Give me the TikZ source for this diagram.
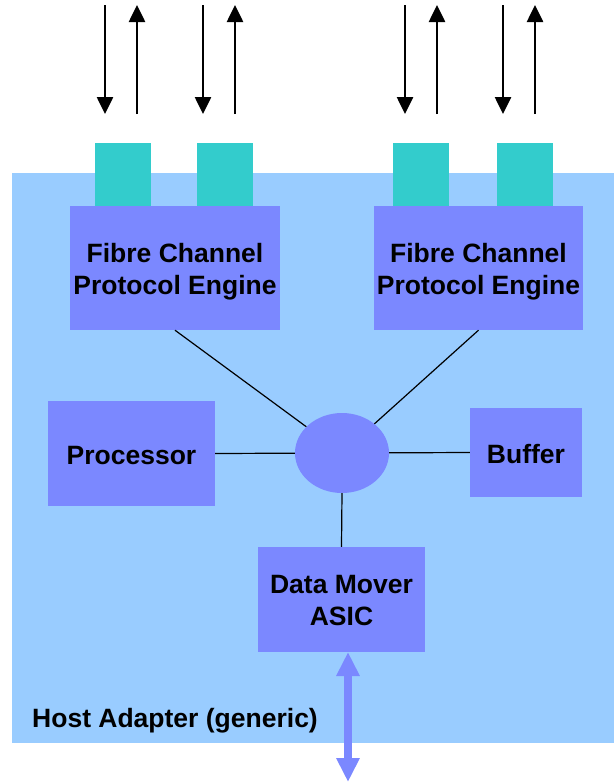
\documentclass[tikz,border=0pt]{standalone}
\usepackage{fontspec}
\setmainfont{Liberation Sans}
\usetikzlibrary{shapes.geometric,arrows.meta}
\definecolor{hostblue}{HTML}{99CCFF}
\definecolor{unitblue}{HTML}{7B88FF}
\definecolor{portteal}{HTML}{33CCCC}
\begin{document}
\begin{tikzpicture}[x=1pt,y=-1pt,
  unit/.style={fill=unitblue,draw=none,inner sep=0pt},
  unittext/.style={inner sep=0pt,align=center,
    font=\fontsize{26.5}{32}\selectfont\bfseries},
  port/.style={fill=portteal,draw=none,inner sep=0pt,minimum width=56pt,minimum height=64pt},
  link/.style={draw=black,line width=1.2pt},
  sig/.style={line width=2.6pt,-{Triangle[width=16pt,length=17pt]}},
  busarrow/.style={draw=unitblue,line width=8pt,
    {Triangle[width=22pt,length=24pt]}-{Triangle[width=22pt,length=24pt]}}]
\useasboundingbox (0,0) rectangle (614,782);
% host adapter board
\fill[hostblue] (12,173) rectangle (614,743);
\node[anchor=base west,inner sep=0pt,font=\fontsize{26.5}{32}\selectfont\bfseries] (hostlabel) at (32,727) {Host Adapter (generic)};
% optical ports
\node[port] (p1) at (123,175) {};
\node[port] (p2) at (225,175) {};
\node[port] (p3) at (421,175) {};
\node[port] (p4) at (525,175) {};
% functional units
\node[unit,minimum width=210pt,minimum height=124pt] (fcl) at (175,268) {};
\node[unit,minimum width=209pt,minimum height=124pt] (fcr) at (478.5,268) {};
\node[unit,minimum width=167pt,minimum height=105pt] (proc) at (131.5,453.5) {};
\node[unit,minimum width=112pt,minimum height=89pt] (buf) at (526,452.5) {};
\node[unit,minimum width=167pt,minimum height=105pt] (dm) at (341.5,599.5) {};
\node[ellipse,fill=unitblue,draw=none,inner sep=0pt,minimum width=94pt,minimum height=80pt] (hub) at (342,453) {};
% unit captions (slightly below the box centres)
\node[unittext] (fcltext) at ([yshift=-4pt]fcl.center) {Fibre Channel\\Protocol Engine};
\node[unittext] (fcrtext) at ([yshift=-4pt]fcr.center) {Fibre Channel\\Protocol Engine};
\node[unittext] (proctext) at ([yshift=-2pt]proc.center) {Processor};
\node[unittext] (buftext) at ([yshift=-2pt]buf.center) {Buffer};
\node[unittext] (dmtext) at ([yshift=-1.5pt]dm.center) {Data Mover\\ASIC};
% internal links
\draw[link] (fcl.south) -- (hub);
\draw[link] (fcr.south) -- (hub);
\draw[link] (proc.east) -- (hub);
\draw[link] (buf.west) -- (hub);
\draw[link] (dm.north) -- (hub.south);
% fibre signal arrows
\foreach \dx/\ux [count=\i] in {105/137,203/235,405/437,503/535}{
  \coordinate (rxtop\i) at (\dx,5);
  \coordinate (rxbot\i) at (\dx,114);
  \coordinate (txbot\i) at (\ux,114);
  \coordinate (txtop\i) at (\ux,5);
  \draw[sig] (rxtop\i) -- (rxbot\i);
  \draw[sig] (txbot\i) -- (txtop\i);
}
% host bus
\coordinate (busend) at (348,782);
\coordinate (busstart) at (348,652);
\draw[busarrow] (busstart) -- (busend);
\end{tikzpicture}
\end{document}
